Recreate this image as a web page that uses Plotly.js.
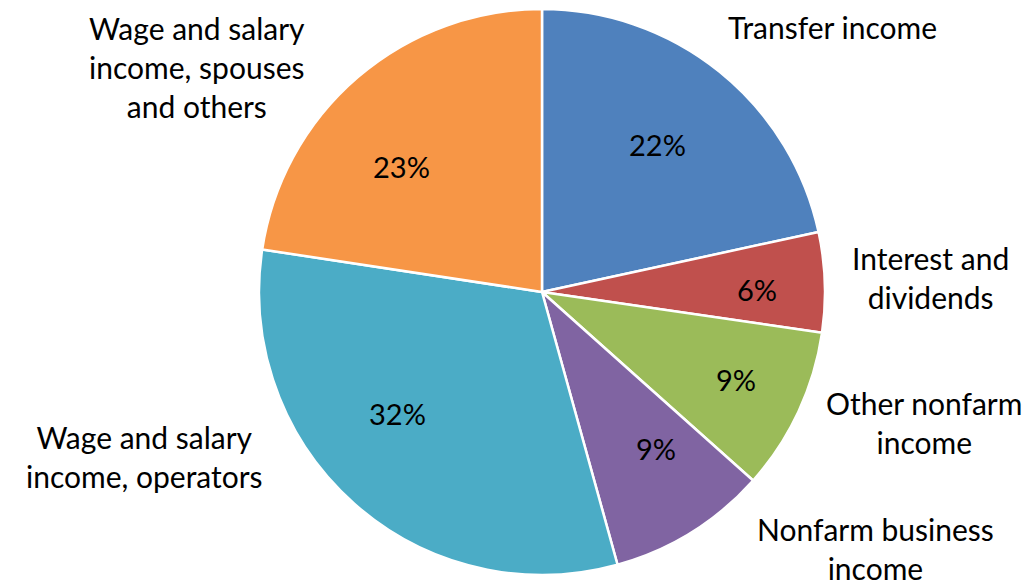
<!DOCTYPE html>
<html>
<head>
<meta charset="utf-8">
<script src="https://cdn.plot.ly/plotly-3.0.1.min.js"></script>
<style>html,body{margin:0;padding:0;background:#fff;}#chart{width:1028px;height:581px;}</style>
</head>
<body>
<div id="chart"></div>
<script>
const categories = ["Transfer income", "Interest and dividends", "Other nonfarm income", "Nonfarm business income", "Wage and salary income, operators", "Wage and salary income, spouses and others"];
const shares = [21.6, 5.7, 9.3, 9.1, 31.7, 22.6];
const colors = ["#4F81BD", "#C0504D", "#9BBB59", "#8064A2", "#4BACC6", "#F79646"];
const labelText = ["Transfer income", "Interest and<br>dividends", "Other nonfarm<br>income", "Nonfarm business<br>income", "Wage and salary<br>income, operators", "Wage and salary<br>income, spouses<br>and others"];

const W = 1028, H = 581;
const cx = 542, cy = 292, R = 283;
const FONT = "Lato, 'Source Sans Pro', 'Noto Sans', sans-serif";

// outside label anchor positions (pixels, centre of text block)
const labelPos = [[832, 27], [930, 277], [924, 422], [875, 548], [144, 456], [197, 67]];
// percent label positions (pixels, centre)
const pctPos = [[657, 144], [757, 289], [736, 379], [656, 448], [397, 413], [401, 167]];

const total = shares.reduce((a, b) => a + b, 0);
const annotations = [];
labelText.forEach((t, i) => annotations.push({
  text: t, x: labelPos[i][0] / W, y: 1 - labelPos[i][1] / H,
  xref: "paper", yref: "paper", xanchor: "center", yanchor: "middle",
  showarrow: false, align: "center",
  font: {family: FONT, size: 30, color: "#000"}
}));
shares.forEach((v, i) => annotations.push({
  text: Math.round(v / total * 100) + "%", x: pctPos[i][0] / W, y: 1 - pctPos[i][1] / H,
  xref: "paper", yref: "paper", xanchor: "center", yanchor: "middle",
  showarrow: false, align: "center",
  font: {family: FONT, size: 29, color: "#000"}
}));

const data = [{
  type: "pie",
  labels: categories,
  values: shares,
  sort: false,
  direction: "clockwise",
  rotation: 0,
  marker: {colors: colors, line: {color: "#fff", width: 2.5}},
  textinfo: "none",
  hoverinfo: "none",
  domain: {x: [(cx - R) / W, (cx + R) / W], y: [1 - (cy + R) / H, 1 - (cy - R) / H]}
}];

const layout = {
  width: W, height: H,
  margin: {l: 0, r: 0, t: 0, b: 0},
  paper_bgcolor: "#fff",
  showlegend: false,
  annotations: annotations
};

Plotly.newPlot("chart", data, layout, {displayModeBar: false, staticPlot: true});
</script>
</body>
</html>
